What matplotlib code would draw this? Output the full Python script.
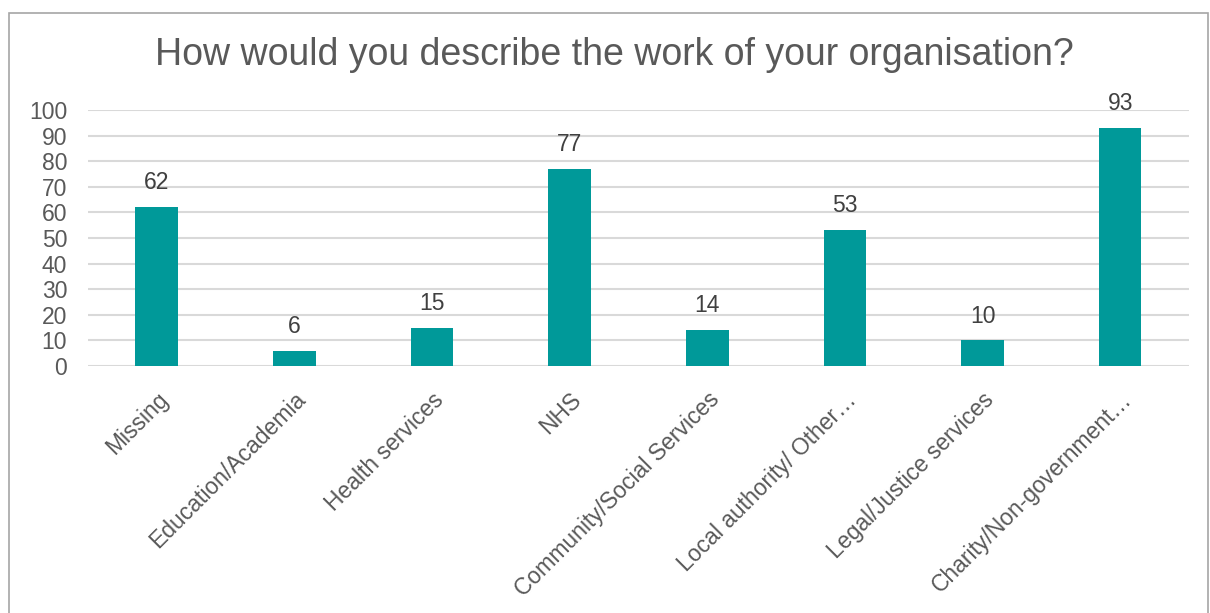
import matplotlib.pyplot as plt
import matplotlib.patches as patches

categories = ["Missing", "Education/Academia", "Health services", "NHS",
              "Community/Social Services", "Local authority/ Other\u2026",
              "Legal/Justice services", "Charity/Non-government\u2026"]
counts = [62, 6, 15, 77, 14, 53, 10, 93]
y_ticks = list(range(0, 101, 10))

plt.rcParams["font.family"] = ["Liberation Sans", "DejaVu Sans"]

fig = plt.figure(figsize=(12.1, 6.13), dpi=100)
ax = fig.add_axes([0.0727, 0.403, 0.9099, 0.4176])

x = range(len(categories))
bars = ax.bar(x, counts, width=0.31, color="#009999", zorder=3)
for xi, v in zip(x, counts):
    ax.text(xi, v + 5, str(v), ha="center", va="bottom", fontsize=16.5, color="#404040")

ax.set_xlim(-0.5, len(categories) - 0.5)
ax.set_ylim(0, 100)
ax.set_yticks(y_ticks)
ax.grid(axis="y", color="#d9d9d9", linewidth=1.5, zorder=0)
for s in ax.spines.values():
    s.set_visible(False)
ax.tick_params(axis="both", length=0, labelsize=16.5, labelcolor="#595959")
ax.tick_params(axis="y", pad=15)
ax.set_xticks(list(x))
ax.set_xticklabels(categories, rotation=45, ha="right", rotation_mode="anchor")
ax.tick_params(axis="x", pad=16)

fig.text(0.508, 0.91, "How would you describe the work of your organisation?",
         ha="center", va="center", fontsize=27, color="#595959")

# chart border
fig.patches.append(patches.Rectangle((9 / 1210, -0.05), 1199 / 1210, 1 - 13 / 613 + 0.05,
                                     transform=fig.transFigure, fill=False,
                                     edgecolor="#a6a6a6", linewidth=1.2))

fig.savefig("out.png", dpi=100)
